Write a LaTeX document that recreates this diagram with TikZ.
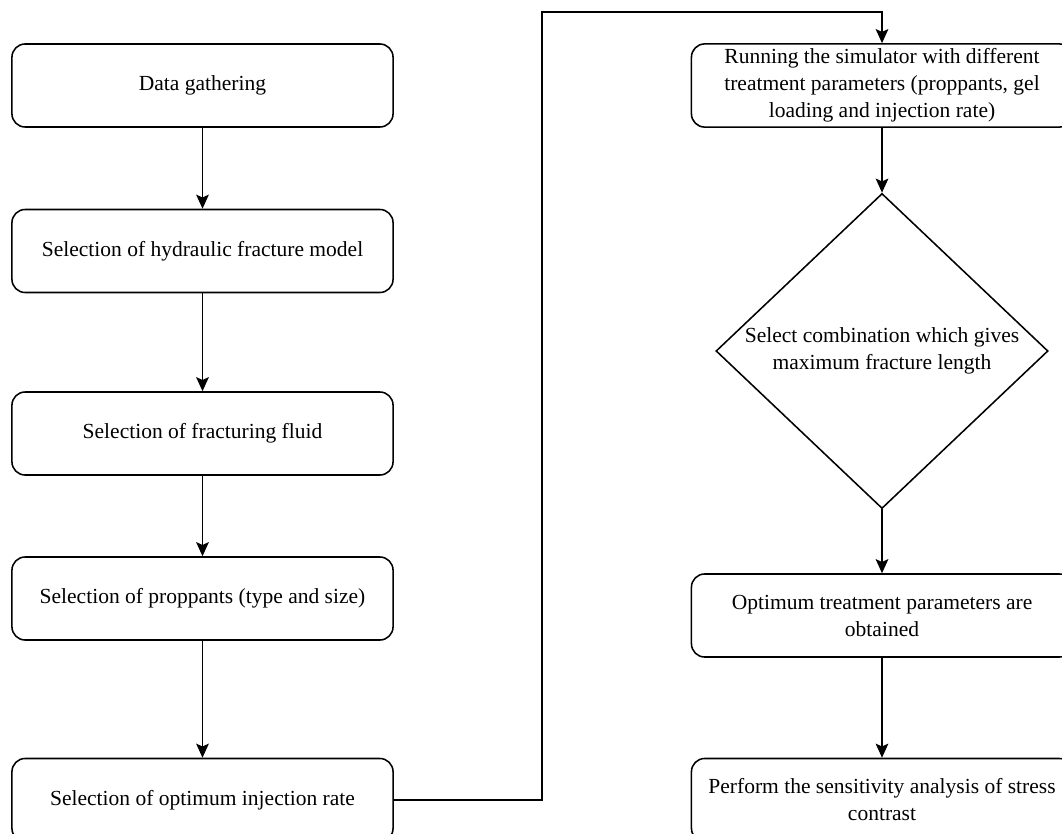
\documentclass[tikz,border=0pt]{standalone}
\usepackage{fontspec}
\setmainfont{Liberation Serif}
\usetikzlibrary{shapes.geometric,arrows.meta}
\tikzset{
  procbox/.style={draw, rounded corners=0.33cm, minimum width=9.525cm, minimum height=2.075cm,
    align=center, line width=1.1pt, font=\fontsize{15.3}{19.2}\selectfont},
  choice/.style={draw, diamond, aspect=1.054, minimum width=8.3cm, minimum height=7.875cm, inner sep=0pt,
    align=center, line width=1.1pt, font=\fontsize{15.3}{19.2}\selectfont},
  flow/.style={-{Stealth[length=10pt,width=9pt,inset=2pt]}, line width=1.1pt}
}
\begin{document}
\begin{tikzpicture}[x=0.025cm, y=-0.025cm]
  \path[use as bounding box, clip] (0,0) rectangle (1062,833);

  % Left column
  \node[procbox] (gather) at (202.5,85.5) {Data gathering};
  \node[procbox] (model) at (202.5,251) {Selection of hydraulic fracture model};
  \node[procbox] (fluid) at (202.5,433.5) {Selection of fracturing fluid};
  \node[procbox] (prop) at (202.5,598.5) {Selection of proppants (type and size)};
  \node[procbox] (rate) at (202.5,800) {Selection of optimum injection rate};

  \draw[flow] (gather) -- (model);
  \draw[flow] (model) -- (fluid);
  \draw[flow] (fluid) -- (prop);
  \draw[flow] (prop) -- (rate);

  % Right column
  \node[procbox] (simrun) at (882,85.5) {Running the simulator with different\\treatment parameters (proppants, gel\\loading and injection rate)};
  \node[choice] (select) at (882,351) {Select combination which gives\\maximum fracture length};
  \node[procbox] (optimum) at (882,615.5) {Optimum treatment parameters are\\obtained};
  \node[procbox] (sens) at (882,800) {Perform the sensitivity analysis of stress\\contrast};

  \draw[flow] (simrun) -- (select);
  \draw[flow] (select) -- (optimum);
  \draw[flow] (optimum) -- (sens);

  % Link between columns
  \coordinate (turn) at (542,12);
  \draw[flow] (rate.east) -| (turn) -| (simrun.north);
\end{tikzpicture}
\end{document}
